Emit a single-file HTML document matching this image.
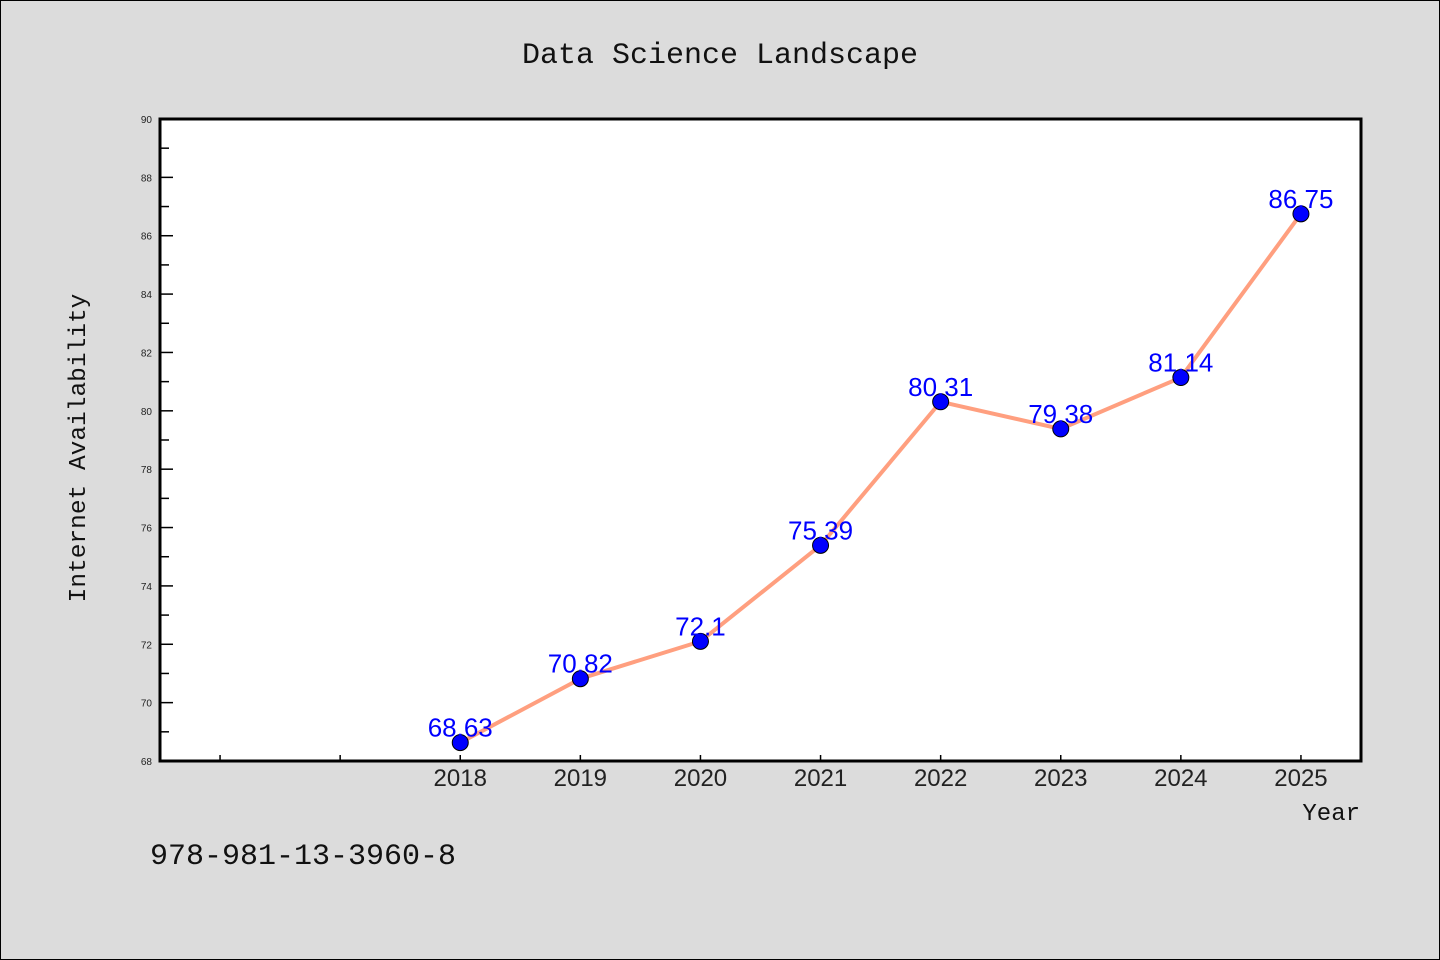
<!DOCTYPE html>
<html><head><meta charset="utf-8"><style>
body{margin:0;background:#dcdcdc;}
svg{display:block;}
</style></head><body>
<svg id="chart" width="1440" height="960" xmlns="http://www.w3.org/2000/svg">
<rect x="0.5" y="0.5" width="1439" height="959" fill="#dcdcdc" stroke="#000" stroke-width="1"/>
<text x="720" y="63" text-anchor="middle" font-family="'Liberation Mono','WenQuanYi Zen Hei',monospace" font-size="30" fill="#111">Data Science Landscape</text>
<rect x="160" y="119" width="1201" height="642" fill="#fff"/>
<g id="yticks"></g>
<g id="xticks"></g>
<g id="series"></g>
<rect x="160" y="119" width="1201" height="642" fill="none" stroke="#000" stroke-width="3"/>
<text transform="translate(85,448) rotate(-90)" text-anchor="middle" font-family="'Liberation Mono','WenQuanYi Zen Hei',monospace" font-size="24.5" fill="#111">Internet Availability</text>
<text x="1360" y="820" text-anchor="end" font-family="'Liberation Mono','WenQuanYi Zen Hei',monospace" font-size="24" fill="#111">Year</text>
<text x="150" y="864" font-family="'Liberation Mono','WenQuanYi Zen Hei',monospace" font-size="30" fill="#111">978-981-13-3960-8</text>
</svg>
<script>
const years = [2018, 2019, 2020, 2021, 2022, 2023, 2024, 2025];
const values = [68.63, 70.82, 72.1, 75.39, 80.31, 79.38, 81.14, 86.75];
const valueLabels = ["68.63", "70.82", "72.1", "75.39", "80.31", "79.38", "81.14", "86.75"];
const yTicks = [68, 70, 72, 74, 76, 78, 80, 82, 84, 86, 88, 90];

const NS = "http://www.w3.org/2000/svg";
const X0 = 160, X1 = 1361, Y0 = 761, Y1 = 119;
const xMin = 2015.5, xMax = 2025.5, yMin = 68, yMax = 90;
function xs(v){ return X0 + (v - xMin) / (xMax - xMin) * (X1 - X0); }
function ys(v){ return Y0 - (v - yMin) / (yMax - yMin) * (Y0 - Y1); }
function mk(tag, attrs, parent){
  const e = document.createElementNS(NS, tag);
  for (const k in attrs) e.setAttribute(k, attrs[k]);
  parent.appendChild(e); return e;
}
const yg = document.getElementById('yticks');
yTicks.forEach((t, i) => {
  const y = ys(t);
  const l = mk('line', {x1: X0, x2: X0 + 13, y1: y, y2: y, stroke: '#000', 'stroke-width': 1.5}, yg);
  
  
  const tx = mk('text', {x: X0 - 8, y: y + 4, 'text-anchor': 'end', 'font-family': "'Liberation Sans',sans-serif", 'font-size': 10, fill: '#222'}, yg);
  tx.textContent = t;
  
  
  if (i < yTicks.length - 1) {
    const ym = ys(t + 1);
    const m = mk('line', {x1: X0, x2: X0 + 9, y1: ym, y2: ym, stroke: '#000', 'stroke-width': 1.5}, yg);
    
    
  }
});
const xg = document.getElementById('xticks');
[2016, 2017].concat(years).forEach(yr => {
  const x = xs(yr);
  const l = mk('line', {x1: x, x2: x, y1: Y0, y2: Y0 - 6, stroke: '#000', 'stroke-width': 1.5}, xg);
  
  
});
years.forEach(yr => {
  const tx = mk('text', {x: xs(yr), y: Y0 + 25, 'text-anchor': 'middle', 'font-family': "'Liberation Sans',sans-serif", 'font-size': 24, fill: '#222'}, xg);
  tx.textContent = yr;
  
  
});
const sg = document.getElementById('series');
const pts = years.map((yr, i) => xs(yr) + ',' + ys(values[i])).join(' ');
const pl = mk('polyline', {points: pts, fill: 'none', stroke: '#ff9f7f', 'stroke-width': 4, 'stroke-linejoin': 'round'}, sg);


years.forEach((yr, i) => {
  const c = mk('circle', {cx: xs(yr), cy: ys(values[i]), r: 8, fill: '#0000ff', stroke: '#000', 'stroke-width': 1}, sg);
  
  
});
years.forEach((yr, i) => {
  const t = mk('text', {x: xs(yr), y: ys(values[i]) - 6, 'text-anchor': 'middle', 'font-family': "'Liberation Sans',sans-serif", 'font-size': 26, fill: '#0000ff'}, sg);
  t.textContent = valueLabels[i];
  
  
});
</script>
</body></html>
